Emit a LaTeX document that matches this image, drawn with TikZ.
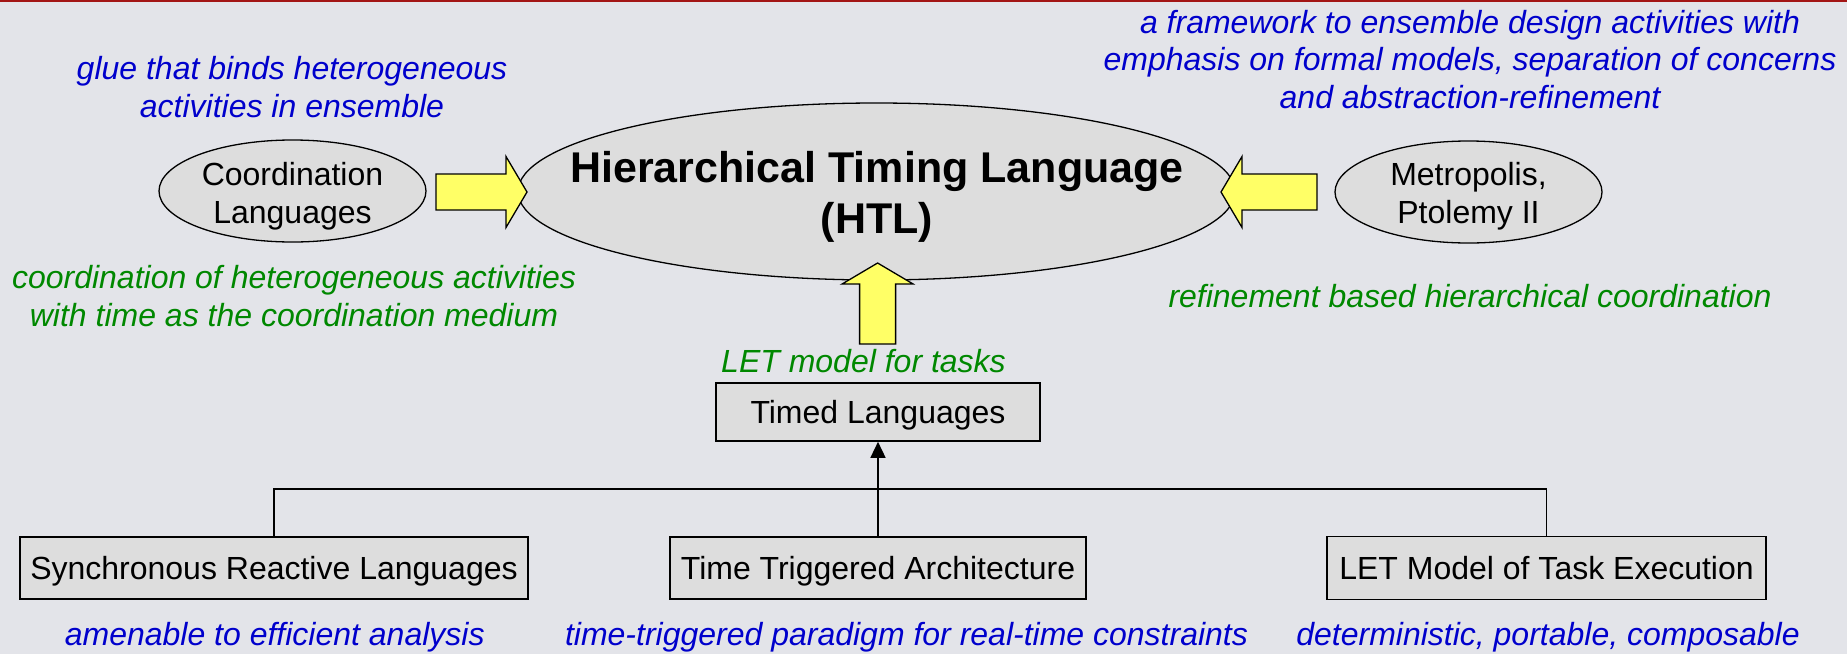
\documentclass[tikz,border=0pt]{standalone}
\usepackage{fontspec}
\setmainfont{Liberation Sans}
\usetikzlibrary{arrows.meta,shapes.geometric}

\definecolor{bgcol}{HTML}{E3E4E9}
\definecolor{topred}{HTML}{A31515}
\definecolor{shapefill}{HTML}{DDDDDD}
\definecolor{arrowyellow}{HTML}{FFFF66}
\definecolor{noteblue}{HTML}{0000CC}
\definecolor{notegreen}{HTML}{008800}

\begin{document}
\begin{tikzpicture}[x=1pt,y=-1pt,
  body/.style={font=\fontsize{32}{37.5}\selectfont, align=center, inner sep=0pt},
  title/.style={font=\fontsize{43}{51}\selectfont\bfseries, align=center, inner sep=0pt},
  note/.style={font=\fontsize{32}{37.5}\selectfont\itshape, align=center, inner sep=0pt},
  bluenote/.style={note, text=noteblue},
  greennote/.style={note, text=notegreen},
  ell/.style={ellipse, draw=black, line width=1.3pt, fill=shapefill, inner sep=0pt},
  box/.style={rectangle, draw=black, line width=1.6pt, fill=shapefill, inner sep=0pt,
    font=\fontsize{32}{37.5}\selectfont, text height=26pt, text depth=4pt},
  wire/.style={draw=black, line width=1.5pt},
  yarrow/.style={fill=arrowyellow, draw=black, line width=1.3pt, line join=miter},
  pics/blockarrow/.style={code={
    \draw[yarrow] (0,0) -- (-21,-35.5) -- (-21,-18) -- (-#1,-18) -- (-#1,18)
      -- (-21,18) -- (-21,35.5) -- cycle;}}
]
% page background and the thin rule along the top
\fill[bgcol] (0,0) rectangle (1847,654);
\fill[topred] (0,0) rectangle (1847,2);
\useasboundingbox (0,0) rectangle (1847,654);

% upper row: the two sources feeding HTL (multi-line texts sit on their last baseline)
\node[ell, minimum width=267pt, minimum height=102pt] (coord) at (292.5,191) {};
\node[body, anchor=base] (coordtext) at (292.5,223) {Coordination\\Languages};

\node[ell, minimum width=717pt, minimum height=177pt] (htl) at (876.5,191.5) {};
\node[title, anchor=base] (htltext) at (877,233) {Hierarchical Timing Language\\(HTL)};

\node[ell, minimum width=267pt, minimum height=102pt] (metro) at (1468.5,192) {};
\node[body, anchor=base] (metrotext) at (1468.5,223) {Metropolis,\\Ptolemy II};

% yellow block arrows into HTL
\pic at (527,192) {blockarrow=91};
\pic[rotate=180] at (1221,192) {blockarrow=96};
\pic[rotate=90] at (877.6,263) {blockarrow=81};

% lower tree of boxes
\node[box, minimum width=324pt, minimum height=58pt] (timed) at (878,412) {Timed Languages};
\node[box, minimum width=508pt, minimum height=62pt] (sync) at (274,568) {Synchronous Reactive Languages};
\node[box, minimum width=416pt, minimum height=62pt] (tta) at (878,568) {Time Triggered Architecture};
\node[box, minimum width=439pt, minimum height=63pt] (letx) at (1546.5,568) {LET Model of Task Execution};

\coordinate (bus) at (878,489);
\draw[wire] (sync.north) |- (bus) -| (letx.north);
\draw[wire, -{Triangle[length=16pt,width=15pt]}] (tta.north) -- (timed.south);

% annotations
\node[bluenote, anchor=base] (glue) at (292,117) {glue that binds heterogeneous\\activities in ensemble};
\node[greennote, anchor=base] (coordnote) at (294,326) {coordination of heterogeneous activities\\with time as the coordination medium};
\node[bluenote, anchor=base] (framenote) at (1470,108) {a framework to ensemble design activities with\\emphasis on formal models, separation of concerns\\and abstraction-refinement};
\node[greennote, anchor=base] (refinenote) at (1470,307) {refinement based hierarchical coordination};
\node[greennote, anchor=base] (letnote) at (863.5,372) {LET model for tasks};
\node[bluenote, anchor=base] (syncnote) at (274.7,645) {amenable to efficient analysis};
\node[bluenote, anchor=base] (ttanote) at (906.5,645) {time-triggered paradigm for real-time constraints};
\node[bluenote, anchor=base] (letxnote) at (1548,645) {deterministic, portable, composable};
\end{tikzpicture}
\end{document}
